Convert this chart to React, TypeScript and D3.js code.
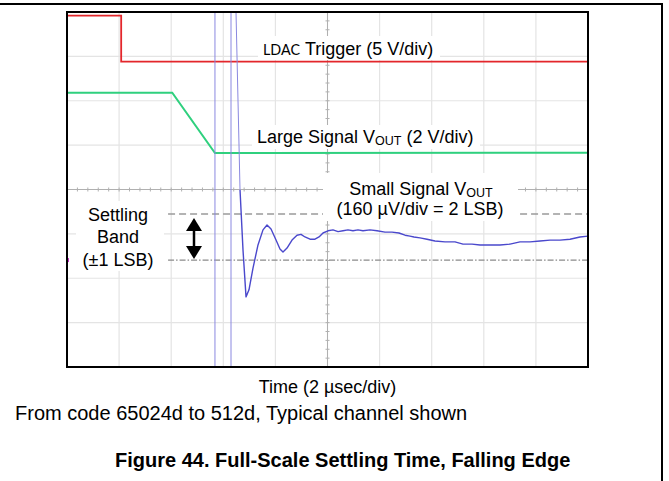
import React from 'react';
import * as d3 from 'd3';

// Oscilloscope screen: 10 horizontal divisions (2 µs/div), 8 vertical divisions
const xDivs = d3.range(0, 11);
const yDivs = d3.range(-4, 5);

// LDAC trigger trace (divisions)
const ldacT = [0, 1.04, 1.04, 10];
const ldacV = [3.92, 3.92, 2.88, 2.88];

// Large signal VOUT trace (divisions)
const largeT = [0, 2.02, 2.84, 10];
const largeV = [2.18, 2.18, 0.82, 0.83];

// Small signal VOUT trace (divisions), off-screen values clipped
const smallT = [2.84, 2.84, 3.148, 3.148, 3.244, 3.321, 3.378, 3.436, 3.493, 3.57, 3.666, 3.762, 3.839, 3.916,
  4.012, 4.088, 4.146, 4.223, 4.319, 4.415, 4.491, 4.568, 4.664, 4.76, 4.837, 4.914, 5.01, 5.106, 5.202,
  5.298, 5.393, 5.489, 5.585, 5.681, 5.816, 5.95, 6.104, 6.238, 6.372, 6.488, 6.583, 6.66, 6.775, 6.91,
  7.063, 7.255, 7.447, 7.601, 7.774, 7.927, 8.119, 8.311, 8.503, 8.695, 8.887, 9.079, 9.271, 9.463, 9.655,
  9.846, 10.0];
const smallV = [5, -5, -5, 5, 4.0, -0.01, -1.36, -2.42, -2.26, -1.77, -1.25, -0.91, -0.8, -0.89,
  -1.14, -1.34, -1.41, -1.32, -1.14, -1.03, -1.01, -1.07, -1.12, -1.12, -1.07, -0.98, -0.93, -0.91, -0.95,
  -0.93, -0.91, -0.93, -0.91, -0.93, -0.91, -0.93, -0.96, -0.96, -0.98, -1.03, -1.05, -1.07, -1.09, -1.12,
  -1.16, -1.18, -1.18, -1.23, -1.23, -1.25, -1.25, -1.25, -1.23, -1.18, -1.18, -1.16, -1.14, -1.14, -1.12,
  -1.07, -1.05];
// number of leading points belonging to the (faint) fast edge
const fastEdgeCount = 6;

// Settling band (±1 LSB) in divisions
const bandUpper = -0.55;
const bandLower = -1.59;
const bandStart = 1.94;

const FONT = "'Liberation Sans', Arial, Helvetica, sans-serif";

export default function App() {
  const W = 669, H = 481;
  const x = d3.scaleLinear().domain([0, 10]).range([67, 588]);
  const y = d3.scaleLinear().domain([-4, 4]).range([367, 12]);
  const line = d3.line<[number, number]>().x(d => x(d[0])).y(d => y(d[1]));
  const ldac = line(ldacT.map((t, i) => [t, ldacV[i]]));
  const large = line(largeT.map((t, i) => [t, largeV[i]]));
  const smallPts = smallT.map((t, i) => [t, smallV[i]] as [number, number]);
  const smallFast = line(smallPts.slice(0, fastEdgeCount));
  const smallSettle = line(smallPts.slice(fastEdgeCount - 1));

  const minorX = d3.range(0, 50.001, 1).map(i => i / 5);
  const minorY = d3.range(-20, 20.001, 1).map(i => i / 5);

  const arTop = y(bandUpper) + 4, arBot = y(bandLower) - 1;
  const arrowX = 194;

  return (
    <svg width={W} height={H} style={{ position: 'absolute', left: 0, top: 0, background: '#fff' }}
      fontFamily={FONT}>
      <defs>
        <clipPath id="plotclip">
          <rect x={x(0)} y={y(4)} width={x(10) - x(0)} height={y(-4) - y(4)} />
        </clipPath>
      </defs>
      <rect x={0} y={0} width={W} height={H} fill="#fff" />
      {/* outer frame */}
      <line x1={0} y1={4} x2={663} y2={4} stroke="#000" strokeWidth={2} />
      <line x1={662} y1={4} x2={662} y2={H} stroke="#000" strokeWidth={2} />

      <g clipPath="url(#plotclip)">
        {/* grid */}
        {xDivs.map(d => (
          <line key={'gx' + d} x1={x(d)} x2={x(d)} y1={y(4)} y2={y(-4)} stroke="#e4e4e4" strokeWidth={1.2} />
        ))}
        {yDivs.map(d => (
          <line key={'gy' + d} x1={x(0)} x2={x(10)} y1={y(d)} y2={y(d)} stroke="#e4e4e4" strokeWidth={1.2} />
        ))}
        {/* center axes with minor ticks */}
        <line x1={x(0)} x2={x(10)} y1={y(0)} y2={y(0)} stroke="#b0b0b0" strokeWidth={1} />
        <line x1={x(5)} x2={x(5)} y1={y(4)} y2={y(-4)} stroke="#b0b0b0" strokeWidth={1} />
        {minorX.map((d, i) => (
          <line key={'mx' + i} x1={x(d)} x2={x(d)} y1={y(0) - 2} y2={y(0) + 2} stroke="#b0b0b0" strokeWidth={1} />
        ))}
        {minorY.map((d, i) => (
          <line key={'my' + i} x1={x(5) - 2} x2={x(5) + 2} y1={y(d)} y2={y(d)} stroke="#b0b0b0" strokeWidth={1} />
        ))}

        {/* settling band lines */}
        <line x1={x(bandStart)} x2={x(10)} y1={y(bandUpper)} y2={y(bandUpper)} stroke="#9a9a9a"
          strokeWidth={1.5} strokeDasharray="7 4" />
        <line x1={x(bandStart)} x2={x(10)} y1={y(bandLower)} y2={y(bandLower)} stroke="#8a8a8a"
          strokeWidth={1.3} strokeDasharray="6 2 1.5 2" />

        {/* label backgrounds */}
        <rect x={258} y={36} width={182} height={24} fill="#fff" />
        <rect x={252} y={125} width={228} height={24} fill="#fff" />
        <rect x={323} y={173} width={195} height={48} fill="#fff" />
        <rect x={76} y={201} width={88} height={70} fill="#fff" />

        {/* traces */}
        <path d={ldac ?? ''} fill="none" stroke="#e3262b" strokeWidth={1.8} />
        <path d={large ?? ''} fill="none" stroke="#2fd07e" strokeWidth={2} />
        <path d={smallFast ?? ''} fill="none" stroke="#8a88e0" strokeWidth={1} />
        <path d={smallSettle ?? ''} fill="none" stroke="#4a48cc" strokeWidth={1.4} strokeLinejoin="round" />
        <rect x={x(0)} y={y(bandLower) - 2} width={2} height={4} fill="#cc33cc" />
      </g>

      {/* plot frame */}
      <rect x={x(0)} y={y(4)} width={x(10) - x(0)} height={y(-4) - y(4)} fill="none" stroke="#000" strokeWidth={2} />

      {/* labels */}
      <text x={263} y={55} fontSize={16} fontFamily="Lato, 'Open Sans', sans-serif" textLength={37}
        lengthAdjust="spacingAndGlyphs" fill="#000">LDAC</text>
      <text x={305} y={55} fontSize={18} fill="#000">Trigger (5 V/div)</text>

      <text x={257} y={143} fontSize={18} fill="#000">
        Large Signal V<tspan fontSize={12.5} dy={1.5}>OUT</tspan><tspan dy={-1.5}> (2 V/div)</tspan>
      </text>

      <text x={421} y={195} fontSize={18} textAnchor="middle" fill="#000">
        Small Signal V<tspan fontSize={12.5} dy={1.5}>OUT</tspan>
      </text>
      <text x={420} y={215} fontSize={18} textAnchor="middle" fill="#000">(160 µV/div = 2 LSB)</text>

      <text x={118} y={221} fontSize={18} textAnchor="middle" fill="#000">Settling</text>
      <text x={118} y={243} fontSize={18} textAnchor="middle" fill="#000">Band</text>
      <text x={118} y={266} fontSize={18} textAnchor="middle" fill="#000">(±1 LSB)</text>

      {/* double arrow */}
      <line x1={arrowX} x2={arrowX} y1={arTop + 10} y2={arBot - 10} stroke="#000" strokeWidth={2.5} />
      <path d={`M${arrowX},${arTop} L${arrowX - 8},${arTop + 13} L${arrowX + 8},${arTop + 13} Z`} fill="#000" />
      <path d={`M${arrowX},${arBot} L${arrowX - 8},${arBot - 13} L${arrowX + 8},${arBot - 13} Z`} fill="#000" />

      <text x={(x(0) + x(10)) / 2} y={393} fontSize={18} textAnchor="middle" fill="#000">Time (2 µsec/div)</text>
      <text x={15} y={420} fontSize={20} fill="#000">From code 65024d to 512d, Typical channel shown</text>
      <text x={115} y={467} fontSize={20} fontWeight="bold" fill="#000">Figure 44. Full-Scale Settling Time, Falling Edge</text>
    </svg>
  );
}
